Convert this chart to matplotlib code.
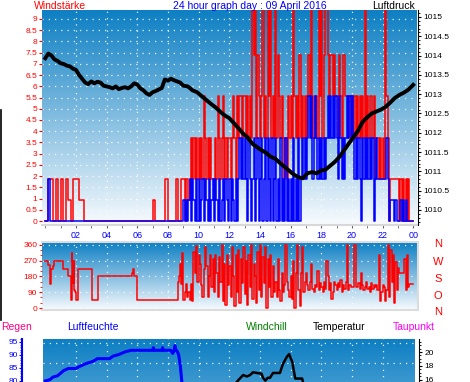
import numpy as np
import matplotlib
matplotlib.use("Agg")
import matplotlib.pyplot as plt
from matplotlib.colors import LinearSegmentedColormap
from matplotlib.ticker import MultipleLocator, FuncFormatter
from matplotlib.lines import Line2D

plt.rcParams['font.family'] = ['Liberation Sans', 'DejaVu Sans']

W, H = 470, 382

## Windstaerke as level codes
wind_levels = [0, 0.93, 1.85, 3.7, 5.55, 7.4, 9.25, 11.1]
# 00-09 h: one code every 10 minutes, one row per hour
gust_early = [
    [0, 2, 2, 0, 2, 0], [2, 0, 2, 1, 0, 2], [2, 1, 1, 0, 0, 0], [0, 0, 0, 0, 0, 0],
    [0, 0, 0, 0, 0, 0], [0, 0, 0, 0, 0, 0], [0, 0, 0, 0, 0, 0], [1, 0, 0, 0, 0, 2],
    [0, 0, 0, 2, 0, 2],
]
avg_early = [
    [0, 2, 0, 0, 0, 0], [0, 0, 0, 0, 0, 0], [0, 0, 0, 0, 0, 0], [0, 0, 0, 0, 0, 0],
    [0, 0, 0, 0, 0, 0], [0, 0, 0, 0, 0, 0], [0, 0, 0, 0, 0, 0], [0, 0, 0, 0, 0, 0],
    [0, 0, 0, 0, 0, 0],
]
# 09-24 h: one code every 5 minutes, one row per hour
gust_late = [
    [2, 0, 2, 2, 1, 2, 3, 2, 3, 2, 3, 2],
    [3, 2, 3, 2, 4, 3, 2, 3, 2, 3, 2, 2],
    [2, 3, 2, 4, 3, 2, 3, 4, 2, 3, 2, 3],
    [3, 2, 3, 4, 3, 2, 4, 3, 4, 4, 3, 4],
    [4, 3, 4, 3, 4, 3, 7, 5, 7, 3, 5, 4],
    [3, 4, 7, 3, 4, 3, 7, 4, 7, 3, 4, 3],
    [7, 3, 5, 4, 3, 4, 3, 2, 3, 2, 4, 3],
    [4, 3, 7, 4, 3, 4, 3, 5, 3, 4, 3, 4],
    [3, 4, 5, 4, 7, 3, 4, 4, 4, 3, 7, 4],
    [7, 3, 5, 7, 7, 5, 4, 5, 5, 4, 5, 4],
    [4, 3, 5, 4, 3, 5, 5, 4, 4, 3, 4, 3],
    [4, 3, 4, 3, 4, 3, 4, 3, 4, 3, 7, 3],
    [4, 3, 4, 4, 3, 4, 2, 3, 3, 2, 3, 2],
    [3, 2, 7, 4, 3, 0, 2, 2, 2, 2, 2, 2],
    [2, 0, 2, 0, 2, 0, 2, 0, 2, 0, 0, 0],
]
avg_late = [
    [1, 0, 1, 0, 1, 2, 0, 2, 1, 0, 2, 0],
    [2, 0, 1, 2, 0, 2, 1, 0, 2, 0, 1, 2],
    [0, 2, 1, 0, 2, 0, 1, 2, 0, 2, 1, 0],
    [2, 0, 2, 1, 0, 2, 0, 2, 3, 2, 3, 2],
    [3, 2, 0, 3, 2, 0, 2, 3, 0, 2, 3, 0],
    [2, 3, 0, 2, 3, 0, 3, 2, 0, 3, 0, 2],
    [3, 0, 2, 0, 3, 0, 2, 0, 3, 0, 2, 0],
    [2, 0, 3, 0, 2, 0, 3, 0, 2, 3, 2, 3],
    [2, 3, 4, 3, 4, 2, 3, 4, 3, 2, 3, 2],
    [3, 2, 3, 2, 3, 4, 3, 4, 3, 4, 3, 4],
    [3, 2, 4, 3, 2, 3, 2, 3, 4, 3, 4, 3],
    [4, 3, 2, 3, 2, 3, 2, 0, 3, 2, 3, 2],
    [3, 2, 3, 2, 3, 0, 2, 3, 2, 2, 2, 2],
    [2, 2, 2, 3, 2, 0, 1, 1, 1, 0, 1, 0],
    [0, 0, 1, 0, 1, 0, 1, 0, 0, 0, 0, 0],
]

## Luftdruck (hPa)
pres_h = [0.0, 0.2, 0.4, 0.6, 0.8, 1.0, 1.2, 1.4, 1.6, 1.8, 2.0, 2.2, 2.4, 2.6, 2.8,
          3.0, 3.2, 3.4, 3.6, 3.8, 4.0, 4.2, 4.4, 4.6, 4.8, 5.0, 5.2, 5.4, 5.6, 5.8,
          6.0, 6.2, 6.4, 6.6, 6.8, 7.0, 7.2, 7.4, 7.6, 7.8, 8.0, 8.2, 8.4, 8.6, 8.8,
          9.0, 9.3, 9.6, 9.9, 10.2, 10.5, 10.8, 11.1, 11.4, 11.7, 12.0, 12.3, 12.6,
          12.9, 13.2, 13.5, 13.8, 14.1, 14.4, 14.7, 15.0, 15.3, 15.6, 15.9, 16.2,
          16.5, 16.8, 17.1, 17.4, 17.7, 18.0, 18.3, 18.6, 18.9, 19.2, 19.5, 19.8,
          20.1, 20.4, 20.7, 21.0, 21.3, 21.6, 21.9, 22.2, 22.5, 22.8, 23.1, 23.4,
          23.7, 24.0]
pres = [1013.93, 1014.05, 1014.00, 1013.90, 1013.86, 1013.80, 1013.78, 1013.74,
        1013.72, 1013.66, 1013.63, 1013.50, 1013.40, 1013.30, 1013.26, 1013.33,
        1013.28, 1013.32, 1013.30, 1013.22, 1013.20, 1013.18, 1013.15, 1013.20,
        1013.13, 1013.16, 1013.18, 1013.15, 1013.20, 1013.28, 1013.25, 1013.15,
        1013.10, 1013.02, 1012.98, 1013.05, 1013.08, 1013.12, 1013.16, 1013.38,
        1013.35, 1013.40, 1013.36, 1013.33, 1013.30, 1013.22, 1013.20, 1013.10,
        1013.05, 1012.95, 1012.85, 1012.75, 1012.66, 1012.55, 1012.45, 1012.38,
        1012.25, 1012.12, 1011.98, 1011.88, 1011.72, 1011.63, 1011.55, 1011.48,
        1011.38, 1011.33, 1011.22, 1011.12, 1011.02, 1010.92, 1010.85, 1010.82,
        1010.95, 1010.98, 1010.95, 1011.02, 1011.05, 1011.15, 1011.25, 1011.38,
        1011.55, 1011.72, 1011.88, 1012.05, 1012.28, 1012.40, 1012.50, 1012.55,
        1012.60, 1012.67, 1012.78, 1012.90, 1012.98, 1013.04, 1013.12, 1013.24]

## Windrichtung: calm part as breakpoints, then 5-minute samples from 09:00
dir_calm_h = [0.0, 0.2, 0.3, 0.4, 0.5, 0.57, 1.17, 1.5, 1.68, 1.72, 1.77, 1.8, 1.86,
              1.9, 1.94, 2.0, 2.11, 3.07, 3.46, 5.68, 5.72, 5.76, 6.0, 8.68, 8.73,
              8.78, 8.85, 8.9, 8.96]
dir_calm = [270, 245, 135, 225, 240, 270, 225, 180, 45, 315, 270, 140, 270,
            100, 90, 45, 225, 45, 180, 200, 225, 180, 45, 150, 180,
            250, 135, 315, 45]
dir_rows = [
    [45, 90, 135, 60, 90, 45, 135, 40, 320, 200, 355, 150],
    [300, 250, 130, 60, 220, 350, 240, 60, 180, 300, 120, 280],
    [90, 300, 200, 60, 290, 150, 360, 40, 250, 20, 300, 130],
    [240, 60, 350, 180, 10, 300, 90, 330, 30, 280, 140, 350],
    [80, 270, 20, 300, 120, 360, 50, 250, 180, 30, 320, 100],
    [360, 60, 290, 140, 350, 0, 280, 120, 300, 60, 240, 90],
    [150, 60, 280, 100, 40, 200, 90, 130, 360, 150, 100, 60],
    [180, 50, 270, 0, 200, 360, 100, 10, 200, 350, 90, 150],
    [200, 130, 100, 150, 250, 110, 90, 130, 120, 210, 100, 140],
    [120, 90, 150, 110, 270, 180, 100, 140, 50, 90, 150, 130],
    [100, 140, 120, 160, 90, 130, 110, 150, 360, 100, 130, 120],
    [120, 120, 360, 120, 120, 140, 110, 200, 130, 100, 120, 150],
    [110, 120, 90, 140, 110, 130, 120, 130, 100, 300, 40, 90],
    [130, 120, 40, 100, 360, 60, 330, 150, 300, 30, 260, 100],
    [230, 200, 200, 200, 200, 280, 100, 300, 120, 135, 135, 135],
]

## Luftfeuchte (%) und Temperatur (C)
hum_h = [0.0, 0.3, 0.5, 0.8, 1.0, 1.2, 1.5, 2.0, 2.2, 2.5, 2.8, 3.1, 3.4, 4.2, 4.4,
         4.8, 5.2, 5.6, 7.0, 7.05, 7.1, 7.6, 7.65, 7.7, 8.2, 8.3, 8.4, 8.45, 8.5,
         8.6, 8.7, 8.8, 8.9, 9.0]
hum = [80.0, 80.5, 81.5, 82.0, 83.0, 84.0, 84.8, 84.8, 85.5, 86.3, 87.0, 87.5, 88.6,
       88.6, 89.5, 90.2, 91.2, 91.8, 91.8, 92.8, 91.8, 91.8, 92.8, 91.8, 91.8, 90.6,
       91.5, 93.6, 92.0, 91.5, 90.0, 86.0, 80.0, 75.0]
temp_h = [12.3, 12.6, 12.9, 13.15, 13.35, 13.55, 13.8, 14.1, 14.2, 14.35, 14.5, 14.65,
          14.85, 15.3, 15.5, 15.75, 15.9, 16.1, 16.3, 16.75, 16.85, 17.0]
temp = [15.2, 16.0, 16.7, 16.5, 16.7, 17.1, 17.0, 16.9, 16.3, 15.9, 16.3, 16.3,
        17.0, 17.0, 18.3, 19.3, 19.7, 18.6, 16.2, 16.2, 15.3, 14.5]

hour_labels = ['02', '04', '06', '08', '10', '12', '14', '16', '18', '20', '22', '00']

gust = [wind_levels[c] for row in gust_early + gust_late for c in row] + [0]
avg = [wind_levels[c] for row in avg_early + avg_late for c in row] + [0]
t_wind = np.concatenate([np.arange(9 * 6) / 6, 9 + np.arange(15 * 12) / 12, [24.0]])
dir_t = list(dir_calm_h) + list(9 + np.arange(len(dir_rows) * 12) / 12) + [24.0]
dir_v = list(dir_calm) + [v for row in dir_rows for v in row] + [135]

bg = LinearSegmentedColormap.from_list('bg', ['#0D7FC3', '#F8FBFE'])
dots = dict(color='white', lw=0.9, ls=(0, (1, 4)), alpha=0.9)

fig = plt.figure(figsize=(W / 100, H / 100), dpi=100)


def px_axes(l, t, r, b):
    return fig.add_axes([l / W, 1 - b / H, (r - l) / W, (b - t) / H])


def background(ax):
    ax.imshow(np.linspace(0, 1, 256).reshape(-1, 1), cmap=bg, aspect='auto',
              extent=(0, 1, 0, 1), transform=ax.transAxes, zorder=0, origin='upper')


def vgrid(ax):
    for h in range(2, 24, 2):
        ax.axvline(h, zorder=0.5, **dots)


## Panel 1: Windstaerke + Luftdruck
ax1 = px_axes(42, 10, 417, 225)
background(ax1)
vgrid(ax1)
for y in np.arange(0.5, 9.01, 0.5):
    ax1.axhline(y, zorder=0.5, **dots)
ax1.step(t_wind, gust, where='post', color='red', lw=1.1, zorder=2)
ax1.step(t_wind, avg, where='post', color='blue', lw=1.1, zorder=3)
ax1.set_xlim(-0.215, 24.25)
ax1.set_ylim(-0.178, 9.40)
ax1.set_yticks(np.arange(0, 9.01, 0.5))
ax1.yaxis.set_major_formatter(FuncFormatter(lambda v, p: '%g' % v))
ax1.tick_params(axis='y', colors='red', labelsize=6, length=2.2, pad=1.2)
ax1.set_xticks(range(2, 25, 2))
ax1.set_xticklabels(hour_labels)
ax1.xaxis.set_minor_locator(MultipleLocator(1))
ax1.tick_params(axis='x', which='both', colors='#666666', labelcolor='blue',
                labelsize=6.5, length=1.8, pad=2.5)
for s in ['top', 'left', 'right']:
    ax1.spines[s].set_visible(False)
ax1.spines['bottom'].set_color('#d8d8d8')
ax1.spines['bottom'].set_linewidth(1.5)

ax1r = ax1.twinx()
ax1r.plot(pres_h, pres, color='black', lw=2.8, zorder=4)
ax1r.set_ylim(1009.61, 1015.18)
ax1r.set_yticks(np.arange(1010, 1015.01, 0.5))
ax1r.yaxis.set_major_formatter(FuncFormatter(lambda v, p: '%g' % v))
ax1r.yaxis.set_minor_locator(MultipleLocator(0.1))
ax1r.tick_params(axis='y', colors='black', labelsize=6, length=2.5, pad=1.2)
ax1r.tick_params(axis='y', which='minor', length=1.2)
for s in ['top', 'left', 'bottom']:
    ax1r.spines[s].set_visible(False)
ax1r.spines['right'].set_position(('outward', 1))

## Panel 2: Windrichtung
ax2 = px_axes(42, 242, 418, 310)
background(ax2)
vgrid(ax2)
for y in [0, 90, 180, 270, 360]:
    ax2.axhline(y, zorder=0.5, **dots)
ax2.plot(dir_t, dir_v, color='red', lw=1.1, drawstyle='steps-post', zorder=2)
ax2.set_xlim(-0.215, 24.31)
ax2.set_ylim(-11.4, 377)
ax2.set_yticks([0, 90, 180, 270, 360])
ax2.yaxis.set_minor_locator(MultipleLocator(30))
ax2.tick_params(axis='y', which='both', colors='red', labelsize=6, length=2.2, pad=1.2)
ax2.tick_params(axis='y', which='minor', length=1.2)
ax2.set_xticks([])
ax2.spines['left'].set_visible(False)
for s in ['top', 'bottom', 'right']:
    ax2.spines[s].set_color('#dcdcdc')
    ax2.spines[s].set_linewidth(1.5)
for lab, y in zip(['N', 'W', 'S', 'O', 'N'], [244, 262, 279, 296, 312]):
    fig.text(438 / W, 1 - y / H, lab, color='red', fontsize=8, ha='center', va='center')

## Panel 3: Luftfeuchte + Temperatur (runs off the bottom)
ax3 = px_axes(43, 339, 415, 554)
background(ax3)
vgrid(ax3)
for f in [0.981, 0.888, 0.795, 0.702]:
    ax3.plot([0, 1], [f, f], transform=ax3.transAxes, zorder=0.5, **dots)
ax3.plot(hum_h, hum, color='blue', lw=2.2, zorder=3)
ax3.set_xlim(-0.15, 24.11)
ax3.set_ylim(13.4, 96.15)
ax3.set_xticks([])
ax3.set_yticks([80, 85, 90, 95])
ax3.yaxis.set_minor_locator(MultipleLocator(1))
ax3.tick_params(axis='y', which='both', colors='blue', labelsize=6, length=2.2, pad=1)
ax3.tick_params(axis='y', which='minor', length=1.2)
ax3.spines['left'].set_position(('outward', 15))
ax3.spines['left'].set_color('blue')
ax3.spines['left'].set_linewidth(1.5)
for s in ['top', 'right', 'bottom']:
    ax3.spines[s].set_visible(False)

ax3r = ax3.twinx()
ax3r.plot(temp_h, temp, color='black', lw=1.8, zorder=4)
ax3r.set_ylim(-8.9, 21.86)
ax3r.set_yticks([16, 18, 20])
ax3r.yaxis.set_minor_locator(MultipleLocator(0.5))
ax3r.tick_params(axis='y', which='both', colors='black', labelsize=6, length=2.5, pad=1.2)
ax3r.tick_params(axis='y', which='minor', length=1.2)
for s in ['top', 'left', 'bottom']:
    ax3r.spines[s].set_visible(False)
ax3r.spines['right'].set_position(('outward', 3))

## Header texts
fig.text(34 / W, 1 - 6 / H, 'Windstärke', color='red', fontsize=7.5, va='center')
fig.text(250 / W, 1 - 6 / H, '24 hour graph day : 09 April 2016', color='blue',
         fontsize=7.5, ha='center', va='center')
fig.text(415 / W, 1 - 6 / H, 'Luftdruck', color='black', fontsize=7.5, ha='right', va='center')
for txt, x, c in [('Regen', 1, '#FF0080'), ('Luftfeuchte', 67, 'blue'),
                  ('Windchill', 246, 'green'), ('Temperatur', 313, 'black'),
                  ('Taupunkt', 393, '#FF00FF')]:
    fig.text(x / W, 1 - 327 / H, txt, color=c, fontsize=7.5, va='center')

fig.add_artist(Line2D([0.7 / W, 0.7 / W], [1 - 110 / H, 1 - 320 / H], color='black',
                      lw=1.2, transform=fig.transFigure))

fig.savefig('out.png', dpi=100)
